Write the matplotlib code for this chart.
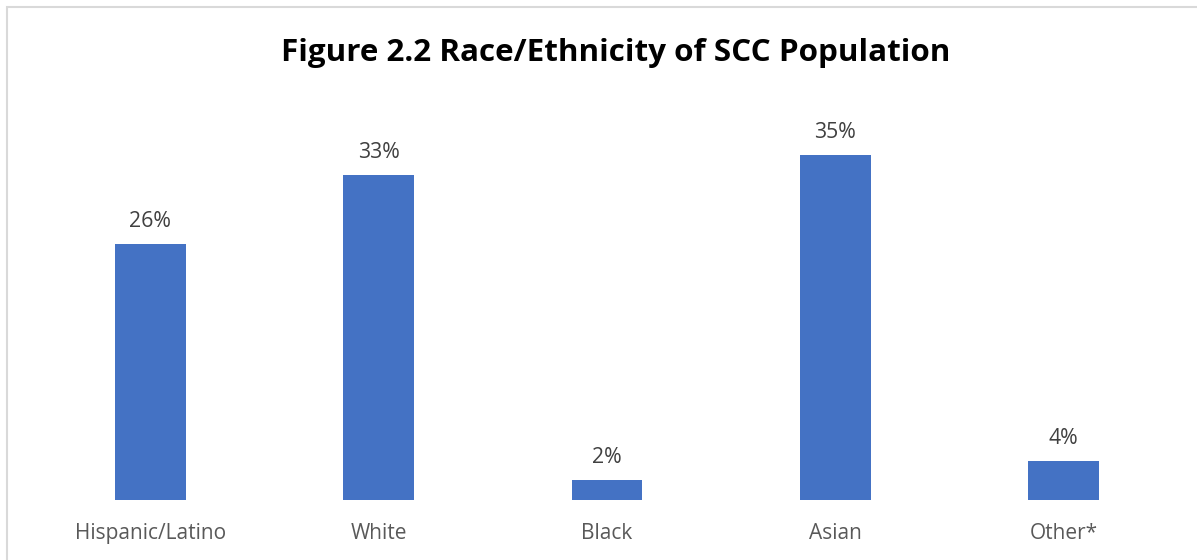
import matplotlib
matplotlib.use("Agg")
import matplotlib.pyplot as plt
from matplotlib.patches import Rectangle

categories = ["Hispanic/Latino", "White", "Black", "Asian", "Other*"]
shares = [26, 33, 2, 35, 4]
title = "Figure 2.2 Race/Ethnicity of SCC Population"

W, H = 1197, 560
fig = plt.figure(figsize=(W / 100, H / 100), dpi=100)
fig.patch.set_facecolor("white")

# light grey chart frame, right/bottom edges run off the picture
fig.add_artist(Rectangle((7 / W, -0.1), 1.2, 1 - 7 / H + 0.1,
                         transform=fig.transFigure, fill=False,
                         edgecolor="#d9d9d9", linewidth=1.5))

ax = fig.add_axes([36 / W, 60 / H, (1178 - 36) / W, 394 / H])
x = range(len(categories))
bars = ax.bar(x, shares, width=0.31, color="#4472c4")
ax.set_xlim(-0.5, len(categories) - 0.5)
ax.set_ylim(0, 40)

for b, v in zip(bars, shares):
    ax.annotate(f"{v}%", (b.get_x() + b.get_width() / 2, v),
                xytext=(0, 8.5), textcoords="offset points",
                ha="center", va="bottom", fontsize=15.3,
                color="#404040", family="Open Sans")

ax.set_xticks(list(x))
ax.set_xticklabels(categories, fontsize=15, color="#595959", family="Open Sans")
ax.tick_params(axis="x", length=0, pad=16.5)
ax.set_yticks([])
for s in ax.spines.values():
    s.set_visible(False)

fig.text(616 / W, 1 - 53 / H, title, ha="center", va="center",
         fontsize=22.6, fontweight="bold", family="Open Sans")

fig.savefig("out.png", dpi=100)
